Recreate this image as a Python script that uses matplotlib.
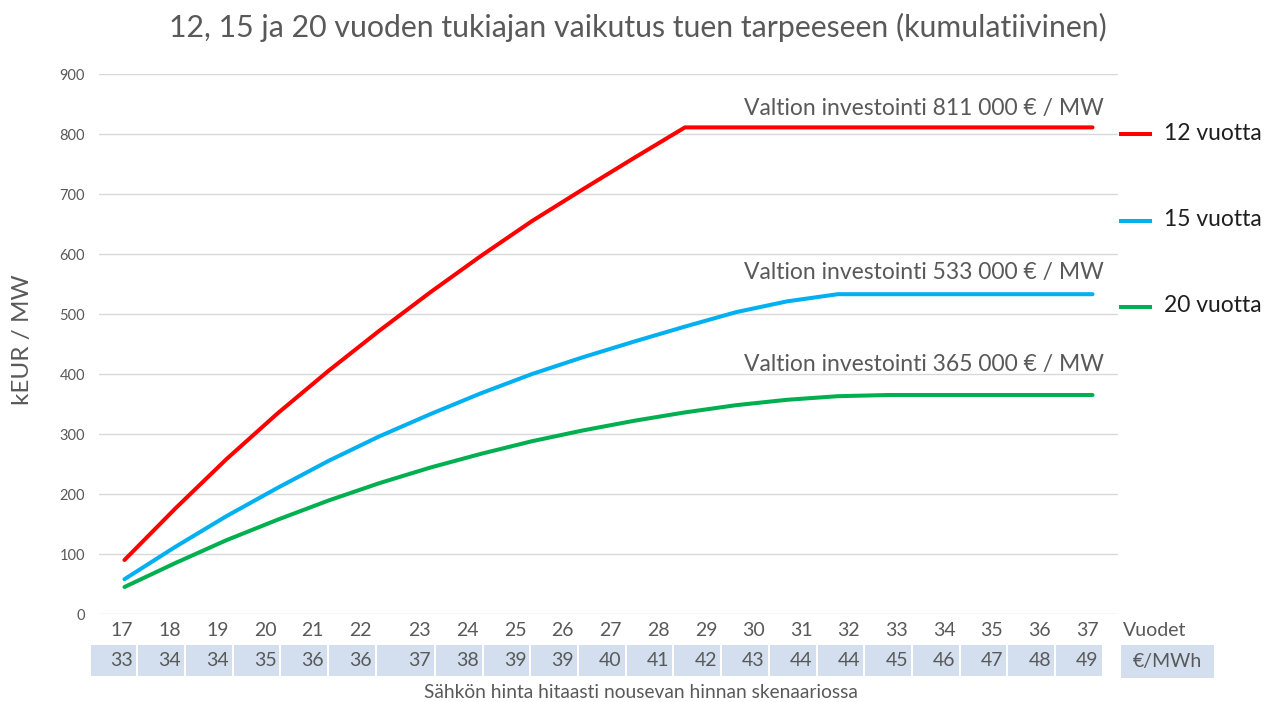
import numpy as np
import matplotlib
matplotlib.use("Agg")
import matplotlib.pyplot as plt
from matplotlib.patches import Rectangle
from matplotlib.lines import Line2D

plt.rcParams['font.family'] = ['Lato', 'DejaVu Sans']

# ---------------- data ----------------
title = "12, 15 ja 20 vuoden tukiajan vaikutus tuen tarpeeseen (kumulatiivinen)"
series_names = ["12 vuotta", "15 vuotta", "20 vuotta"]
series_colors = ["#FF0000", "#00B0F0", "#00B050"]
support_12 = [90, 176, 258, 334, 405, 472, 536, 597, 655, 708, 760, 811,
              811, 811, 811, 811, 811, 811, 811, 811]
support_15 = [58, 112, 163, 210, 255, 296, 333, 368, 400, 428, 454, 479,
              503, 521, 533, 533, 533, 533, 533, 533]
support_20 = [45, 85, 123, 157, 189, 218, 244, 267, 288, 306, 322, 336,
              348, 357, 363, 365, 365, 365, 365, 365]
investment_labels = ["Valtion investointi 811 000 € / MW",
                     "Valtion investointi 533 000 € / MW",
                     "Valtion investointi 365 000 € / MW"]
investment_label_y = [843, 570, 415]
years = [17, 18, 19, 20, 21, 22, 23, 24, 25, 26, 27, 28, 29, 30, 31, 32,
         33, 34, 35, 36, 37]
prices = [33, 34, 34, 35, 36, 36, 37, 38, 39, 39, 40, 41, 42, 43, 44, 44,
          45, 46, 47, 48, 49]
y_ticks = [0, 100, 200, 300, 400, 500, 600, 700, 800, 900]
y_label = "kEUR / MW"
x_caption = "Sähkön hinta hitaasti nousevan hinnan skenaariossa"
row_labels = ["Vuodet", "€/MWh"]

TXT = "#595959"
W, H = 1270, 702
fig = plt.figure(figsize=(W / 100, H / 100), dpi=100)
fig.patch.set_facecolor("white")

# overlay axes in pixel coordinates for free text / table
ov = fig.add_axes([0, 0, 1, 1], zorder=0)
ov.set_xlim(0, W)
ov.set_ylim(H, 0)
ov.axis("off")

# main plot
left, right, top, bottom = 99, 1118, 74, 614
ax = fig.add_axes([left / W, (H - bottom) / H, (right - left) / W, (bottom - top) / H], zorder=2)
ax.patch.set_alpha(0)
n = len(support_12)
x = np.arange(n)
for vals, c in zip([support_12, support_15, support_20], series_colors):
    ax.plot(x, vals, color=c, lw=2.9, solid_capstyle="round", solid_joinstyle="round", zorder=3)
ax.set_xlim(-0.5, n - 0.5)
ax.set_ylim(0, 900)
ax.set_yticks(y_ticks)
ax.set_xticks([])
ax.grid(axis="y", color="#D9D9D9", lw=1)
ax.set_axisbelow(True)
for s in ax.spines.values():
    s.set_visible(False)
ax.tick_params(axis="y", length=0, pad=10, labelsize=10.5, labelcolor=TXT)
for lab, yy in zip(investment_labels, investment_label_y):
    ax.text(19.22, yy, lab, ha="right", va="center", fontsize=16.5, color=TXT)

# y label
ov.text(23, 340, y_label, rotation=90, ha="center", va="center", fontsize=17.5, color=TXT)

# title
ov.text(638, 27, title, ha="center", va="center", fontsize=21.8, color=TXT)

# legend
leg_y = [134, 221, 307]
for name, c, yy in zip(series_names, series_colors, leg_y):
    ov.add_line(Line2D([1121, 1150], [yy, yy], color=c, lw=2.9))
    ov.text(1164, yy - 1, name, ha="left", va="center", fontsize=16.5, color="#1F1F1F")

# table under the chart
col_widths = [1.0] * len(years)
col_widths[6] = 1.24
unit = 47.7
x0 = 89.6
edges = x0 + np.concatenate([[0], np.cumsum(col_widths)]) * unit
cell_top, cell_bot = 645, 676
for i, (yr, pr) in enumerate(zip(years, prices)):
    l, r = edges[i], edges[i + 1]
    ov.add_patch(Rectangle((l + 1, cell_top), r - l - 2, cell_bot - cell_top,
                           facecolor="#D3DFEE", edgecolor="none"))
    ov.text(r - 4, 631, str(yr), ha="right", va="center", fontsize=14, color=TXT)
    ov.text(r - 4, (cell_top + cell_bot) / 2, str(pr), ha="right", va="center", fontsize=14, color=TXT)

ov.text(1123, 631, row_labels[0], ha="left", va="center", fontsize=14, color=TXT)
ov.add_patch(Rectangle((1121, cell_top), 93, 33, facecolor="#D3DFEE", edgecolor="none"))
ov.text(1167, cell_top + 17, row_labels[1], ha="center", va="center", fontsize=14, color=TXT)

ov.text(641, 692, x_caption, ha="center", va="center", fontsize=13.8, color=TXT)

fig.savefig("out.png", dpi=100, facecolor="white")
